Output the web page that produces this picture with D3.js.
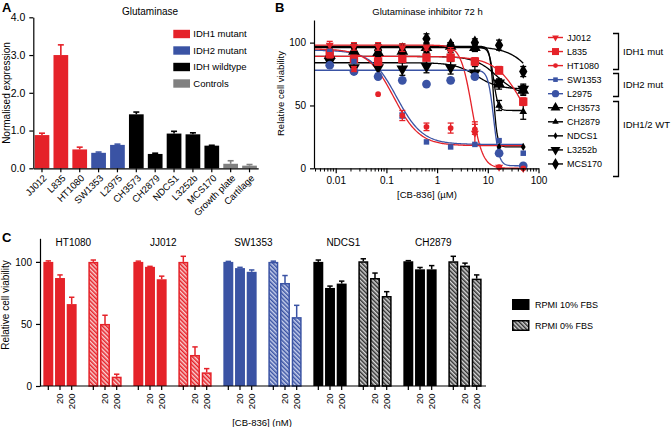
<!DOCTYPE html>
<html><head><meta charset="utf-8">
<script src="https://cdn.jsdelivr.net/npm/d3@7"></script>
<style>body{margin:0;background:#fff} text{font-family:"Liberation Sans",Arial,Helvetica,sans-serif;fill:#000}</style>
</head><body><svg id="c" width="672" height="427"></svg>
<script>
// ---------------- DATA ----------------
// Panel A
const aCategories = ["JJ012","L835","HT1080","SW1353","L2975","CH3573","CH2879","NDCS1","L3252b","MCS170","Growth plate","Cartilage"];
const aGroups = ["IDH1 mutant","IDH1 mutant","IDH1 mutant","IDH2 mutant","IDH2 mutant","IDH wildtype","IDH wildtype","IDH wildtype","IDH wildtype","IDH wildtype","Controls","Controls"];
const aValues = [0.88,3.0,0.5,0.41,0.62,1.43,0.38,0.92,0.9,0.6,0.12,0.07];
const aErrors = [0.05,0.27,0.06,0.02,0.02,0.06,0.02,0.06,0.04,0.01,0.08,0.03];
const aYTicks = [0,1,2,3,4];
const aLegend = ["IDH1 mutant","IDH2 mutant","IDH wildtype","Controls"];

// Panel B
const bConc = [0.00762,0.0229,0.0686,0.206,0.617,1.85,5.56,16.7,50];
const bNames = ["JJ012","L835","HT1080","SW1353","L2975","CH3573","CH2879","NDCS1","L3252b","MCS170"];
const bJJ012  = [98,97,97,96,96,93,28,1,0];
const bL835   = [91,87,85,87,88,88,85,78,53];
const bHT1080 = [90,79,59,42,33,32,31,1,0];
const bSW1353 = [93,85,74,42,21,17,19,22,12];
const bL2975  = [82,77,73,70,67,70,73,12,2];
const bCH3573 = [90,93,92,93,96,97,96,67,62];
const bCH2879 = [93,93,92,93,93,95,96,50,45];
const bNDCS1  = [97,97,97,97,98,98,97,17,17];
const bL3252b = [85,80,80,79,81,80,76,68,63];
const bMCS170 = [88,92,94,93,103,98,100,98,77];
const bErrJJ012  = [3,3,3,3,2,3,9,1,1];
const bErrL835   = [3,3,3,2,2,2,3,3,3];
const bErrHT1080 = [2,2,1,4,3,4,4,1,1];
const bErrSW1353 = [1,1,1,2,1,1,1,1,1];
const bErrL2975  = [1,1,1,1,1,1,2,1,1];
const bErrCH3573 = [3,3,4,3,3,3,3,4,4];
const bErrCH2879 = [3,3,3,3,3,3,3,4,6];
const bErrNDCS1  = [2,2,2,2,2,2,2,1,1];
const bErrL3252b = [3,5,5,5,5,5,5,3,4];
const bErrMCS170 = [3,3,3,3,4,2,3,4,4];
// curve fit parameters (4PL) per series
const bTop    = [98,89,95,94,78,89,96,97,84,97];
const bBottom = [0,0,18,19,2,58,46,17,63,0];
const bEC50   = [4.8,60,0.14,0.16,13,15,13,13,6,170];
const bHill   = [4,1.5,1.7,1.7,8,2,10,12,2,1.5];
const bXTicks = [0.01,0.1,1,10,100];
const bYTicks = [0,50,100];
const bBrackets = ["IDH1 mut","IDH2 mut","IDH1/2 WT"];

// Panel C
const cCellLines = ["HT1080","JJ012","SW1353","NDCS1","CH2879"];
const cConditions = ["RPMI 10% FBS","RPMI 0% FBS"];
const cDoses = ["0","20","200"];
const cHT1080_10 = [100,87,66],  cHT1080_10e = [0.8,2.5,5.5];
const cHT1080_0  = [100,50,7.5], cHT1080_0e  = [1.5,7,2];
const cJJ012_10  = [100,96,86],  cJJ012_10e  = [0.6,0.4,2.5];
const cJJ012_0   = [100,25,11],  cJJ012_0e   = [4.5,6.5,3];
const cSW1353_10 = [100,95,92],  cSW1353_10e = [0.4,0.6,1.5];
const cSW1353_0  = [100,83,55.5],cSW1353_0e  = [0.6,6,9.5];
const cNDCS1_10  = [100,79,82.5],cNDCS1_10e  = [1.5,1.5,2];
const cNDCS1_0   = [100.5,87,72.5],cNDCS1_0e = [2,4,3.5];
const cCH2879_10 = [100.5,94,94],cCH2879_10e = [0.5,1.5,3];
const cCH2879_0  = [100.5,97,86.5],cCH2879_0e = [4,2,3];
const cYTicks = [0,50,100];

// ---------------- DRAW ----------------
const RED="#e52229", BLUE="#3a53a4", BLACK="#000", GREY="#808080";
const svg = d3.select("#c");
const defs = svg.append("defs");
function styleAxis(g){ g.selectAll("path,line").attr("stroke","#000").attr("stroke-width",1.2); g.selectAll("text").attr("font-size","10px"); }

// ===== Panel A =====
const aColor = d3.scaleOrdinal().domain(aLegend).range([RED,BLUE,BLACK,GREY]);
const xA = d3.scaleBand().domain(aCategories).range([33.3,258.2]).paddingInner(0.22).paddingOuter(0.07);
const yA = d3.scaleLinear().domain([0,4]).range([168.3,17.3]);
const gA = svg.append("g");
gA.selectAll("line.err").data(aCategories).join("line")
  .attr("x1",d=>xA(d)+xA.bandwidth()/2).attr("x2",d=>xA(d)+xA.bandwidth()/2)
  .attr("y1",(d,i)=>yA(aValues[i])).attr("y2",(d,i)=>yA(aValues[i]+aErrors[i]))
  .attr("stroke",(d,i)=>aColor(aGroups[i])).attr("stroke-width",1.6);
gA.selectAll("line.cap").data(aCategories).join("line")
  .attr("x1",d=>xA(d)+xA.bandwidth()/2-3).attr("x2",d=>xA(d)+xA.bandwidth()/2+3)
  .attr("y1",(d,i)=>yA(aValues[i]+aErrors[i])).attr("y2",(d,i)=>yA(aValues[i]+aErrors[i]))
  .attr("stroke",(d,i)=>aColor(aGroups[i])).attr("stroke-width",1.6);
gA.selectAll("rect.bar").data(aCategories).join("rect")
  .attr("x",d=>xA(d)).attr("width",xA.bandwidth())
  .attr("y",(d,i)=>yA(aValues[i])).attr("height",(d,i)=>yA(0)-yA(aValues[i]))
  .attr("fill",(d,i)=>aColor(aGroups[i]));
gA.append("g").attr("transform","translate(33.3,0)")
  .call(d3.axisLeft(yA).tickValues(aYTicks).tickSize(4).tickSizeOuter(0).tickPadding(4)).call(styleAxis)
  .call(g=>g.selectAll("text").attr("font-size","10.5px"));
const axA = gA.append("g").attr("transform","translate(0,168.3)")
  .call(d3.axisBottom(xA).tickSize(4).tickSizeOuter(0)).call(styleAxis);
axA.selectAll("text").attr("transform","translate(3,8) rotate(-45)").attr("text-anchor","end").attr("dy","0.35em").attr("y",0).attr("x",0).attr("font-size","9.5px");
gA.append("text").attr("x",150).attr("y",15).attr("text-anchor","middle").attr("font-size","10px").text("Glutaminase");
gA.append("text").attr("transform","translate(10,93) rotate(-90)").attr("text-anchor","middle").attr("font-size","10px").text("Normalised expression");
gA.append("text").attr("x",2).attr("y",12).attr("font-size","13px").attr("font-weight","bold").text("A");
const legA = gA.selectAll("g.leg").data(aLegend).join("g").attr("transform",(d,i)=>`translate(173.3,${34+i*16.5})`);
legA.append("rect").attr("x",0).attr("y",-4.2).attr("width",16.7).attr("height",8.4).attr("fill",d=>aColor(d));
legA.append("text").attr("x",20).attr("y",0).attr("dy","0.35em").attr("font-size","9.5px").text(d=>d);

// ===== Panel B =====
const bValuesAll = [bJJ012,bL835,bHT1080,bSW1353,bL2975,bCH3573,bCH2879,bNDCS1,bL3252b,bMCS170];
const bErrAll = [bErrJJ012,bErrL835,bErrHT1080,bErrSW1353,bErrL2975,bErrCH3573,bErrCH2879,bErrNDCS1,bErrL3252b,bErrMCS170];
const bColors = [RED,RED,RED,BLUE,BLUE,BLACK,BLACK,BLACK,BLACK,BLACK];
const bSymbols = [d3.symbolTriangle,d3.symbolSquare,d3.symbolCircle,d3.symbolSquare,d3.symbolCircle,d3.symbolTriangle,d3.symbolTriangle,d3.symbolDiamond,d3.symbolTriangle,d3.symbolDiamond];
const bSizes = [28,70,26,30,60,60,26,20,60,60];
const bRot = [180,0,0,0,0,0,0,0,180,0];
const xB = d3.scaleLog().domain([0.00373,100]).range([314,538.5]);
const yB = d3.scaleLinear().domain([0,118]).range([168.3,20]);
const gB = svg.append("g");
const curveX = d3.range(0,201).map(i=>Math.pow(10, Math.log10(0.00373)+i*(Math.log10(50)-Math.log10(0.00373))/200));
const fit = (s,x)=> bBottom[s] + (bTop[s]-bBottom[s])/(1+Math.pow(x/bEC50[s],bHill[s]));
const lineB = d3.line().x(d=>xB(d[0])).y(d=>yB(d[1]));
const drawOrder = [9,8,7,6,5,1,0,4,3,2];
drawOrder.forEach(s=>{
  gB.append("path").attr("d",lineB(curveX.map(x=>[x,fit(s,x)]))).attr("fill","none").attr("stroke",bColors[s]).attr("stroke-width",1.3);
});
drawOrder.forEach(s=>{
  const g = gB.append("g");
  bConc.forEach((c,i)=>{
    const v = bValuesAll[s][i], e = bErrAll[s][i], x = xB(c);
    if(e>1.2){
      g.append("line").attr("x1",x).attr("x2",x).attr("y1",yB(v-e)).attr("y2",yB(v+e)).attr("stroke",bColors[s]).attr("stroke-width",1.3);
      [v-e,v+e].forEach(t=>g.append("line").attr("x1",x-3).attr("x2",x+3).attr("y1",yB(t)).attr("y2",yB(t)).attr("stroke",bColors[s]).attr("stroke-width",1.3));
    }
    g.append("path").attr("d",d3.symbol().type(bSymbols[s]).size(bSizes[s])())
      .attr("transform",`translate(${x},${yB(v)}) rotate(${bRot[s]})`).attr("fill",bColors[s]);
  });
});
gB.append("g").attr("transform","translate(314,0)")
  .call(d3.axisLeft(yB).tickValues(bYTicks).tickSize(4).tickSizeOuter(0).tickPadding(4)).call(styleAxis);
const axB = gB.append("g").attr("transform","translate(0,168.3)")
  .call(d3.axisBottom(xB).tickValues(bXTicks).tickFormat(d3.format("~g")).tickSize(5).tickSizeOuter(0).tickPadding(4)).call(styleAxis);
const minor = [];
[-3,-2,-1,0,1].forEach(k=>{ for(let m=2;m<10;m++){ const v=m*Math.pow(10,k); if(v>0.00373 && v<100) minor.push(v);} });
gB.selectAll("line.minor").data(minor).join("line").attr("x1",d=>xB(d)).attr("x2",d=>xB(d)).attr("y1",168.3).attr("y2",171.5).attr("stroke","#000").attr("stroke-width",1);
gB.append("text").attr("x",427).attr("y",198).attr("text-anchor","middle").attr("font-size","9.5px").text("[CB-836] (\u00b5M)");
gB.append("text").attr("x",427.5).attr("y",15).attr("text-anchor","middle").attr("font-size","9.5px").text("Glutaminase inhibitor 72 h");
gB.append("text").attr("transform","translate(283.5,93.5) rotate(-90)").attr("text-anchor","middle").attr("font-size","9.5px").text("Relative cell viability");
gB.append("text").attr("x",275).attr("y",12).attr("font-size","13px").attr("font-weight","bold").text("B");
// legend B
const legSizeScale = 0.7;
const legB = gB.selectAll("g.legb").data(bNames).join("g").attr("transform",(d,i)=>`translate(548,${37.5+i*14.05})`);
legB.append("line").attr("x1",0).attr("x2",15).attr("stroke",(d,i)=>bColors[i]).attr("stroke-width",1.4);
legB.append("path").attr("d",(d,i)=>d3.symbol().type(bSymbols[i]).size(bSizes[i]*legSizeScale)()).attr("transform",(d,i)=>`translate(7.5,0) rotate(${bRot[i]})`).attr("fill",(d,i)=>bColors[i]);
legB.append("text").attr("x",19).attr("y",0).attr("dy","0.35em").attr("font-size","9px").text(d=>d);
const brackets = [[33.5,69.5],[73.5,96.5],[101.5,176.5]];
brackets.forEach((b,i)=>{
  gB.append("path").attr("d",`M613,${b[0]}H618.5V${b[1]}H613`).attr("fill","none").attr("stroke","#000").attr("stroke-width",1.3);
  gB.append("text").attr("x",623).attr("y",i===2?125:(b[0]+b[1])/2).attr("dy","0.35em").attr("font-size","9.5px").text(bBrackets[i]);
});

// ===== Panel C =====
function hatch(id,bg,fg){
  const p = defs.append("pattern").attr("id",id).attr("patternUnits","userSpaceOnUse").attr("width",3).attr("height",3).attr("patternTransform","rotate(-45)");
  p.append("rect").attr("width",3).attr("height",3).attr("fill",bg);
  p.append("line").attr("x1",0.75).attr("y1",0).attr("x2",0.75).attr("y2",3).attr("stroke",fg).attr("stroke-width",1.5);
}
hatch("hRed","#f9d0d1",RED); hatch("hBlue","#c9d1ec",BLUE); hatch("hBlack","#d8d8d8","#333");
const cLineColor = {HT1080:RED,JJ012:RED,SW1353:BLUE,NDCS1:BLACK,CH2879:BLACK};
const cHatch = {HT1080:"url(#hRed)",JJ012:"url(#hRed)",SW1353:"url(#hBlue)",NDCS1:"url(#hBlack)",CH2879:"url(#hBlack)"};
const cVals = {HT1080:[cHT1080_10,cHT1080_0],JJ012:[cJJ012_10,cJJ012_0],SW1353:[cSW1353_10,cSW1353_0],NDCS1:[cNDCS1_10,cNDCS1_0],CH2879:[cCH2879_10,cCH2879_0]};
const cErrs = {HT1080:[cHT1080_10e,cHT1080_0e],JJ012:[cJJ012_10e,cJJ012_0e],SW1353:[cSW1353_10e,cSW1353_0e],NDCS1:[cNDCS1_10e,cNDCS1_0e],CH2879:[cCH2879_10e,cCH2879_0e]};
const cGroupKeys = [];
cCellLines.forEach(l=>cConditions.forEach((c,ci)=>cGroupKeys.push({line:l,cond:ci,key:l+"|"+ci})));
const x0C = d3.scaleBand().domain(cGroupKeys.map(d=>d.key)).range([37.5,487.5]).paddingInner(0.26).paddingOuter(0.13);
const x1C = d3.scaleBand().domain(cDoses).range([0,x0C.bandwidth()]).paddingInner(0.15);
const yC = d3.scaleLinear().domain([0,119]).range([386,238.3]);
const gC = svg.append("g");
const tickXs = [];
cGroupKeys.forEach(gk=>{
  const vals = cVals[gk.line][gk.cond], errs = cErrs[gk.line][gk.cond], col = cLineColor[gk.line];
  cDoses.forEach((dose,i)=>{
    const x = x0C(gk.key)+x1C(dose), w = x1C.bandwidth(), cx = x+w/2;
    tickXs.push({x:cx,label:dose});
    const top = yC(vals[i]+errs[i]);
    gC.append("line").attr("x1",cx).attr("x2",cx).attr("y1",yC(vals[i])).attr("y2",top).attr("stroke",col).attr("stroke-width",1.5);
    gC.append("line").attr("x1",cx-2.7).attr("x2",cx+2.7).attr("y1",top).attr("y2",top).attr("stroke",col).attr("stroke-width",1.5);
    if(gk.cond===0){
      gC.append("rect").attr("x",x).attr("width",w).attr("y",yC(vals[i])).attr("height",yC(0)-yC(vals[i])).attr("fill",col);
    } else {
      gC.append("rect").attr("x",x+0.75).attr("width",w-1.5).attr("y",yC(vals[i])+0.75).attr("height",Math.max(0,yC(0)-yC(vals[i])-0.75)).attr("fill",cHatch[gk.line]).attr("stroke",col).attr("stroke-width",1.5);
    }
  });
  if(gk.cond===0){
    gC.append("text").attr("x",x0C(gk.key)+30).attr("y",245.5).attr("text-anchor","middle").attr("font-size","10px").text(gk.line);
  }
});
gC.append("g").attr("transform","translate(40,0)")
  .call(d3.axisLeft(yC).tickValues(cYTicks).tickSize(4).tickSizeOuter(0).tickPadding(4)).call(styleAxis);
gC.append("line").attr("x1",40).attr("x2",486).attr("y1",386).attr("y2",386).attr("stroke","#000").attr("stroke-width",1.2);
gC.selectAll("line.ct").data(tickXs).join("line").attr("x1",d=>d.x).attr("x2",d=>d.x).attr("y1",386).attr("y2",390).attr("stroke","#000").attr("stroke-width",1.2);
gC.selectAll("text.ct").data(tickXs.filter(d=>d.label!=="0")).join("text")
  .attr("transform",d=>`translate(${d.x},393.5) rotate(-90)`).attr("text-anchor","end").attr("dy","0.35em").attr("font-size","9.5px").text(d=>d.label);
gC.append("text").attr("x",262).attr("y",426).attr("text-anchor","middle").attr("font-size","9.5px").text("[CB-836] (nM)");
gC.append("text").attr("transform","translate(9,305) rotate(-90)").attr("text-anchor","middle").attr("font-size","10px").text("Relative cell viability");
gC.append("text").attr("x",2).attr("y",242).attr("font-size","13px").attr("font-weight","bold").text("C");
const legC = gC.selectAll("g.legc").data(cConditions).join("g").attr("transform",(d,i)=>`translate(512,${299+i*21})`);
legC.append("rect").attr("x",0.75).attr("y",0.75).attr("width",16).attr("height",9.5).attr("fill",(d,i)=>i===0?BLACK:"url(#hBlack)").attr("stroke","#000").attr("stroke-width",1.5);
legC.append("text").attr("x",23).attr("y",5.5).attr("dy","0.35em").attr("font-size","9px").text(d=>d);
</script></body></html>
